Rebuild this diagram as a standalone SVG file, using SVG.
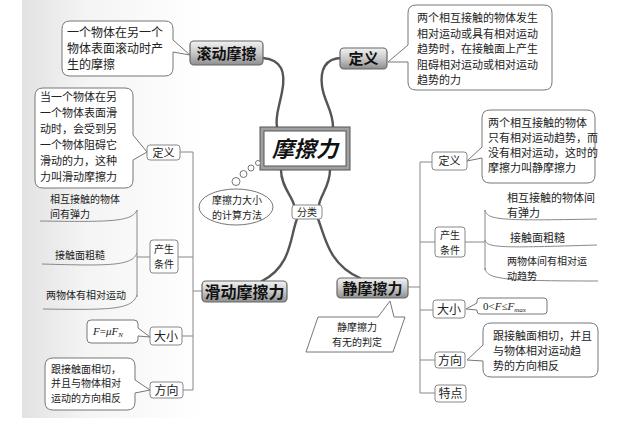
<svg xmlns="http://www.w3.org/2000/svg" width="640" height="427" viewBox="0 0 640 427">
<defs>
<linearGradient id="gn" x1="0" y1="0" x2="0" y2="1">
<stop offset="0" stop-color="#f2f2f2"/>
<stop offset="0.5" stop-color="#c8c8c8"/>
<stop offset="1" stop-color="#8e8e8e"/>
</linearGradient>
<linearGradient id="pg" x1="0" y1="0" x2="1" y2="0">
<stop offset="0" stop-color="#e2e2e2"/>
<stop offset="0.35" stop-color="#f4f4f4"/>
<stop offset="1" stop-color="#ffffff"/>
</linearGradient>
</defs>
<style>
text{font-family:"Noto Sans CJK SC","Liberation Sans",sans-serif;fill:#222;}
.t{font-size:11px;}
.u{font-size:10px;}
.s{font-size:11px;text-anchor:middle;}
.v{font-size:10px;text-anchor:middle;}
.b{font-size:15px;font-weight:bold;text-anchor:middle;fill:#111;}
.f{font-family:"Liberation Serif",serif;font-style:italic;font-size:11px;}
.co{fill:#fff;stroke:#777;stroke-width:1;}
.big{fill:url(#gn);stroke:#666;stroke-width:1.2;}
.sm{fill:#fff;stroke:#888;stroke-width:1;}
.br{fill:none;stroke:#555;stroke-width:2.4;stroke-linecap:round;}
.ln{fill:none;stroke:#888;stroke-width:1;}
</style>
<rect x="0" y="0" width="640" height="427" fill="#fff"/>
<rect x="22" y="0" width="180" height="418" fill="url(#pg)"/>

<g id="connectors">
<path class="br" d="M263,58 C282,60 286,72 282,92 C279,108 275,116 277,127"/>
<path class="br" d="M342,58 C325,58 320,70 322,86 C324,102 333,110 333,127"/>
<path class="br" d="M281,170 C281,186 292,196 294,205"/>
<path class="br" d="M330,170 C330,186 320,196 319,205"/>
<path class="br" d="M297,219 C290,236 292,266 262,281"/>
<path class="br" d="M318,219 C325,236 328,264 360,278"/>
<path class="ln" d="M180,152 H193 V390 M178,257 H193 M202,291 H193 M182,336 H193 M183,390 H193"/>
<path class="ln" d="M150,257 H137 M137,210 V297"/>
<path class="ln" d="M137,210 C132,222 110,222 40,221 M137,253 C132,266 110,266 42,264 M137,295 C132,310 110,310 43,309"/>
<path class="ln" d="M432,162 H420 V393 M408,287 H420 M435,242 H420 M433,310 H420 M435,360 H420 M435,393 H420"/>
<path class="ln" d="M465,242 H485 M485,210 V270"/>
<path class="ln" d="M485,210 C487,220 500,221 597,219 M485,240 C487,248 500,248 597,245 M485,268 C487,279 500,281 598,281"/>
</g>

<g id="center">
<rect x="260" y="127" width="90" height="43" fill="#a0a0a0" stroke="#555" stroke-width="1"/>
<rect x="264" y="131" width="82" height="35" fill="#fff" stroke="#555" stroke-width="1"/>
<text x="305" y="157" style="font-size:22px;font-weight:bold;font-style:italic;text-anchor:middle;fill:#111">摩擦力</text>
</g>

<g id="rolling">
<rect class="big" x="190" y="41" width="73" height="24" rx="4"/>
<text class="b" x="226.5" y="58.5">滚动摩擦</text>
</g>
<g id="rolling-def">
<path class="co" d="M70,21 H165 Q173,21 173,29 V40 L190,55 L173,52 V68 Q173,76 165,76 H70 Q62,76 62,68 V29 Q62,21 70,21 Z"/>
<text style="font-size:12px" x="67" y="37">一个物体在另一个</text>
<text style="font-size:12px" x="67" y="53">物体表面滚动时产</text>
<text style="font-size:12px" x="67" y="69">生的摩擦</text>
</g>

<g id="def-top">
<rect class="big" x="340" y="48" width="47" height="21" rx="4"/>
<text class="b" x="363.5" y="64">定义</text>
</g>
<g id="def-top-text">
<path class="co" d="M416,5 H544 Q552,5 552,13 V82 Q552,90 544,90 H416 Q408,90 408,82 V62 L388,62 L408,45 V13 Q408,5 416,5 Z"/>
<text class="t" x="417" y="22">两个相互接触的物体发生</text>
<text class="t" x="417" y="37.5">相对运动或具有相对运动</text>
<text class="t" x="417" y="53">趋势时，在接触面上产生</text>
<text class="t" x="417" y="68.5">阻碍相对运动或相对运动</text>
<text class="t" x="417" y="84">趋势的力</text>
</g>

<g id="calc">
<circle cx="258" cy="163" r="2.5" fill="#fff" stroke="#777"/>
<circle cx="251" cy="168" r="3" fill="#fff" stroke="#777"/>
<circle cx="243.5" cy="174" r="3.5" fill="#fff" stroke="#777"/>
<circle cx="236" cy="181.5" r="4" fill="#fff" stroke="#777"/>
<ellipse cx="236" cy="207" rx="37" ry="18" fill="#fff" stroke="#777"/>
<text class="v" x="237" y="204">摩擦力大小</text>
<text class="v" x="237" y="219">的计算方法</text>
</g>

<g id="classify">
<rect class="sm" x="292" y="205" width="30" height="14" rx="3"/>
<text class="v" x="307" y="216">分类</text>
</g>

<g id="sliding">
<rect class="big" x="202" y="281" width="85" height="21" rx="4"/>
<text class="b" style="font-size:16px" x="244.5" y="297.5">滑动摩擦力</text>
</g>
<g id="static">
<rect class="big" x="337" y="278" width="71" height="20" rx="4"/>
<text class="b" x="372.5" y="294">静摩擦力</text>
</g>

<g id="s-def">
<rect class="sm" x="147" y="145" width="33" height="15" rx="3"/>
<text class="s" x="163.5" y="156.5">定义</text>
</g>
<g id="s-def-text">
<path class="co" d="M43,88 H125 Q133,88 133,96 V135 L147,152 L133,160 V180 Q133,188 125,188 H43 Q35,188 35,180 V96 Q35,88 43,88 Z"/>
<text class="t" x="40" y="101">当一个物体在另</text>
<text class="t" x="40" y="117">一个物体表面滑</text>
<text class="t" x="40" y="133">动时，会受到另</text>
<text class="t" x="40" y="149">一个物体阻碍它</text>
<text class="t" x="40" y="165">滑动的力，这种</text>
<text class="t" x="40" y="181">力叫滑动摩擦力</text>
</g>
<g id="s-cond">
<rect class="sm" x="150" y="240" width="28" height="33" rx="3"/>
<text class="v" x="164" y="253">产生</text>
<text class="v" x="164" y="268">条件</text>
</g>
<g id="s-cond-items">
<text class="u" x="50" y="203">相互接触的物体</text>
<text class="u" x="50" y="217.5">间有弹力</text>
<text class="u" x="55" y="259">接触面粗糙</text>
<text class="u" x="46" y="299">两物体有相对运动</text>
</g>
<g id="s-size">
<rect class="sm" x="150" y="327" width="32" height="18" rx="3"/>
<text class="s" style="font-size:12px" x="166" y="340.5">大小</text>
<path class="co" d="M91,320 H134 Q138,320 138,324 V328 L150,337 L138,336 V339 Q138,343 134,343 H91 Q87,343 87,339 V324 Q87,320 91,320 Z"/>
<text class="f" x="93" y="335">F<tspan font-style="normal">=</tspan>μF<tspan font-size="7" dy="2">N</tspan></text>
</g>
<g id="s-dir">
<rect class="sm" x="150" y="382" width="33" height="16" rx="3"/>
<text class="s" style="font-size:12px" x="166.5" y="394.5">方向</text>
<path class="co" d="M53,358 H127 Q135,358 135,366 V380 L150,390 L135,393 V402 Q135,410 127,410 H53 Q45,410 45,402 V366 Q45,358 53,358 Z"/>
<text class="u" x="51" y="372.5">跟接触面相切，</text>
<text class="u" x="51" y="387">并且与物体相对</text>
<text class="u" x="51" y="401.5">运动的方向相反</text>
</g>

<g id="judge">
<path class="co" d="M318,317 H378 L390,301 L394,317 H405 L393,352 H306 Z"/>
<text class="v" x="357" y="331">静摩擦力</text>
<text class="v" x="357" y="345.5">有无的判定</text>
</g>

<g id="r-def">
<rect class="sm" x="432" y="152" width="35" height="18" rx="3"/>
<text class="s" x="449.5" y="165">定义</text>
<path class="co" d="M490,110 H587 Q595,110 595,118 V175 Q595,183 587,183 H490 Q482,183 482,175 V158 L467,161 L482,147 V118 Q482,110 490,110 Z"/>
<text class="t" x="488" y="127">两个相互接触的物体</text>
<text class="t" x="488" y="142">只有相对运动趋势，而</text>
<text class="t" x="488" y="157">没有相对运动，这时的</text>
<text class="t" x="488" y="172">摩擦力叫静摩擦力</text>
</g>
<g id="r-cond">
<rect class="sm" x="435" y="227" width="30" height="30" rx="3"/>
<text class="v" x="450" y="239">产生</text>
<text class="v" x="450" y="253.5">条件</text>
<text class="t" x="507" y="202">相互接触的物体间</text>
<text class="t" x="507" y="217">有弹力</text>
<text class="t" x="510" y="242">接触面粗糙</text>
<text class="u" x="507" y="265">两物体间有相对运</text>
<text class="u" x="507" y="279.5">动趋势</text>
</g>
<g id="r-size">
<rect class="sm" x="433" y="300" width="32" height="18" rx="3"/>
<text class="s" style="font-size:12px" x="449" y="313.5">大小</text>
<path class="co" d="M480,298 H544 Q547,298 547,301 V311 Q547,314 544,314 H480 Q477,314 477,311 V310 L466,309 L477,303 V301 Q477,298 480,298 Z"/>
<text class="f" x="483" y="310"><tspan font-style="normal">0&lt;</tspan>F<tspan font-style="normal">≤</tspan>F<tspan font-size="7" dy="2">max</tspan></text>
</g>
<g id="r-dir">
<rect class="sm" x="435" y="352" width="30" height="16" rx="3"/>
<text class="s" style="font-size:12px" x="450" y="364.5">方向</text>
<path class="co" d="M491,323 H590 Q598,323 598,331 V369 Q598,377 590,377 H491 Q483,377 483,369 V361 L467,360 L483,345 V331 Q483,323 491,323 Z"/>
<text class="t" x="493" y="340">跟接触面相切，并且</text>
<text class="t" x="493" y="355">与物体相对运动趋</text>
<text class="t" x="493" y="370">势的方向相反</text>
</g>
<g id="r-feat">
<rect class="sm" x="435" y="385" width="31" height="17" rx="3"/>
<text class="s" style="font-size:12px" x="450.5" y="398">特点</text>
</g>
</svg>
